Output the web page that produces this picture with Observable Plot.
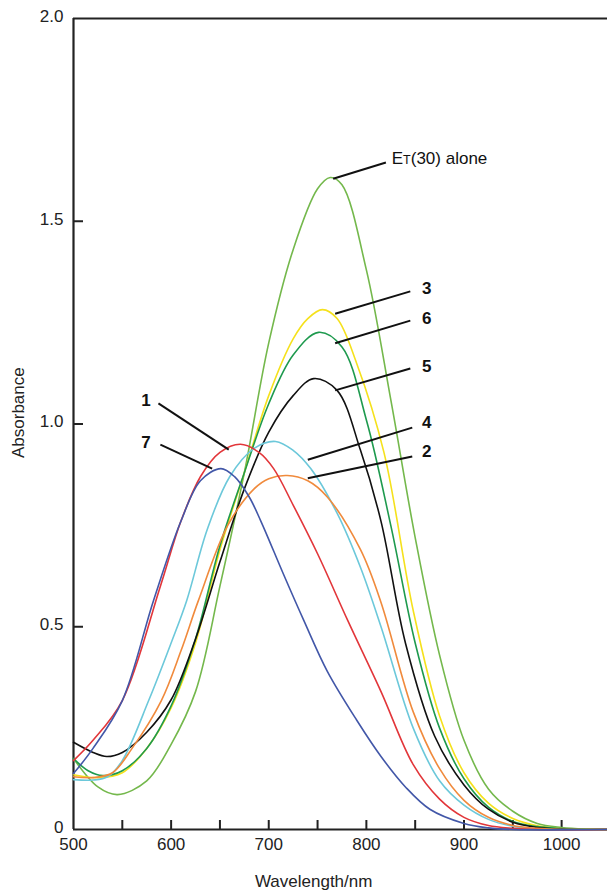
<!DOCTYPE html>
<html><head><meta charset="utf-8">
<script src="https://cdn.jsdelivr.net/npm/d3@7"></script>
<script src="https://cdn.jsdelivr.net/npm/@observablehq/plot@0.6"></script>
<style>
body{margin:0;background:#fff}
svg{display:block}
#chart svg text{font-size:17px}
#chart svg text.axis-title{font-size:17.5px}
#chart svg text.num-label{font-size:17px}
#chart svg text.et-label{font-size:16.5px}
</style>
</head><body><div id="chart"></div>
<script>
// ---- data ----
const et30Nm  = [500, 525, 545, 575, 600, 625, 650, 675, 700, 725, 750, 763, 775, 800, 825, 850, 875, 900, 925, 950, 975, 1000, 1025, 1047];
const et30Abs = [0.175, 0.105, 0.086, 0.12, 0.21, 0.34, 0.60, 0.88, 1.20, 1.43, 1.58, 1.608, 1.59, 1.38, 1.06, 0.72, 0.43, 0.22, 0.10, 0.045, 0.015, 0.005, 0.001, 0];

const s3Nm  = [500, 525, 550, 575, 600, 625, 650, 675, 700, 725, 740, 755, 770, 790, 818, 848, 875, 900, 925, 950, 975, 1000, 1047];
const s3Abs = [0.135, 0.128, 0.14, 0.20, 0.30, 0.46, 0.69, 0.88, 1.07, 1.21, 1.26, 1.282, 1.26, 1.15, 0.93, 0.54, 0.28, 0.14, 0.065, 0.027, 0.009, 0.002, 0];

const s6Nm  = [500, 515, 530, 550, 575, 600, 625, 650, 675, 700, 725, 751, 775, 800, 825, 850, 875, 900, 925, 950, 975, 1000, 1047];
const s6Abs = [0.175, 0.145, 0.133, 0.145, 0.20, 0.305, 0.47, 0.70, 0.88, 1.05, 1.17, 1.226, 1.19, 1.01, 0.75, 0.46, 0.25, 0.125, 0.055, 0.02, 0.007, 0.002, 0];

const s5Nm  = [500, 520, 534, 550, 575, 600, 625, 650, 675, 700, 725, 746, 770, 794, 815, 840, 870, 900, 925, 950, 975, 1000, 1047];
const s5Abs = [0.215, 0.19, 0.18, 0.19, 0.24, 0.32, 0.47, 0.66, 0.84, 0.98, 1.07, 1.112, 1.083, 0.935, 0.76, 0.46, 0.23, 0.11, 0.05, 0.018, 0.005, 0.001, 0];

const s4Nm  = [500, 520, 535, 550, 577, 600, 616, 637, 660, 685, 707, 725, 743, 770, 794, 815, 848, 875, 900, 925, 950, 975, 1000, 1047];
const s4Abs = [0.123, 0.122, 0.13, 0.17, 0.318, 0.46, 0.565, 0.74, 0.87, 0.94, 0.957, 0.935, 0.89, 0.78, 0.646, 0.50, 0.25, 0.12, 0.06, 0.025, 0.008, 0.002, 0, 0];

const s2Nm  = [500, 520, 540, 560, 590, 610, 628, 658, 685, 700, 719, 740, 760, 794, 815, 848, 875, 900, 925, 950, 975, 1000, 1047];
const s2Abs = [0.13, 0.128, 0.14, 0.20, 0.318, 0.44, 0.565, 0.75, 0.84, 0.865, 0.873, 0.86, 0.82, 0.69, 0.56, 0.29, 0.15, 0.072, 0.03, 0.01, 0.003, 0, 0];

const s1Nm  = [500, 520, 550, 589, 610, 630, 650, 671, 690, 705, 725, 750, 781, 815, 848, 875, 900, 925, 950, 975, 1047];
const s1Abs = [0.17, 0.22, 0.318, 0.60, 0.76, 0.87, 0.93, 0.95, 0.93, 0.89, 0.80, 0.68, 0.515, 0.34, 0.16, 0.075, 0.03, 0.01, 0.003, 0, 0];

const s7Nm  = [500, 520, 550, 582, 610, 630, 651, 665, 680, 692, 715, 736, 760, 790, 815, 840, 865, 900, 925, 950, 1047];
const s7Abs = [0.138, 0.20, 0.318, 0.565, 0.76, 0.86, 0.89, 0.87, 0.82, 0.76, 0.63, 0.515, 0.39, 0.27, 0.18, 0.105, 0.05, 0.015, 0.004, 0, 0];

const seriesNames  = ["ET(30) alone", "3", "6", "5", "4", "2", "1", "7"];
const seriesColors = ["#74b84c", "#f5e11c", "#1e9a4e", "#111111", "#6cc8da", "#f08a3c", "#e2363a", "#4257a8"];
const seriesNm  = [et30Nm, s3Nm, s6Nm, s5Nm, s4Nm, s2Nm, s1Nm, s7Nm];
const seriesAbs = [et30Abs, s3Abs, s6Abs, s5Abs, s4Abs, s2Abs, s1Abs, s7Abs];

const xTickValues = [550, 600, 650, 700, 750, 800, 850, 900, 950, 1000];
const xTickLabels = [500, 600, 700, 800, 900, 1000];
const yTickValues = [0.5, 1.0, 1.5];
const yTickLabels = [0, 0.5, 1.0, 1.5, 2.0];
const xTitle = "Wavelength/nm";
const yTitle = "Absorbance";

// annotation leader lines (data coordinates) and labels
const annLabel = ["ET(30) alone", "3", "6", "5", "4", "2", "1", "7"];
const annX1 = [766, 768, 768, 768, 740, 740, 659, 642];
const annY1 = [1.605, 1.272, 1.199, 1.083, 0.912, 0.866, 0.937, 0.890];
const annX2 = [820, 845, 845, 845, 847, 847, 587, 589];
const annY2 = [1.645, 1.327, 1.255, 1.137, 0.991, 0.920, 1.051, 0.949];
const annTx = [826, 857, 857, 857, 857, 857, 579, 579];
const annTy = [1.655, 1.334, 1.260, 1.142, 1.004, 0.932, 1.058, 0.954];
const annAnchor = ["start", "start", "start", "start", "start", "start", "end", "end"];

// ---- build tables ----
const rows = seriesNames.flatMap((name, i) =>
  seriesNm[i].map((nm, j) => ({name, nm, abs: seriesAbs[i][j]})));
const ann = annLabel.map((t, i) => ({t, x1: annX1[i], y1: annY1[i], x2: annX2[i], y2: annY2[i],
  tx: annTx[i], ty: annTy[i], anchor: annAnchor[i]}));

const font = "'Liberation Sans', Arial, Helvetica, sans-serif";

const chart = Plot.plot({
  width: 607,
  height: 890,
  marginLeft: 73,
  marginRight: 0,
  marginTop: 18,
  marginBottom: 61,
  style: {fontFamily: font, fontSize: "17px", color: "#222", background: "#fff"},
  x: {domain: [500, 1047], label: null},
  y: {domain: [0, 2], label: null},
  color: {domain: seriesNames, range: seriesColors},
  marks: [
    Plot.axisX(xTickValues, {tickSize: -9, tickFormat: () => "", stroke: "#222", strokeWidth: 2, label: null}),
    Plot.axisX(xTickLabels, {tickSize: 0, tickPadding: 8, tickFormat: d => String(d), label: null, fill: "#222"}),
    Plot.axisY(yTickValues, {tickSize: -10, tickFormat: () => "", stroke: "#222", strokeWidth: 2, label: null}),
    Plot.axisY(yTickLabels, {tickSize: 0, tickPadding: 10, dy: -2, tickFormat: d => d === 0 ? "0" : d.toFixed(1), label: null, fill: "#222"}),
    Plot.text([xTitle], {x: 746, frameAnchor: "bottom", dy: 52, lineAnchor: "middle", textAnchor: "middle",
      text: d => d, fill: "#222", className: "axis-title"}),
    Plot.text([yTitle], {y: 1.028, frameAnchor: "left", dx: -55, rotate: -90, lineAnchor: "middle", textAnchor: "middle",
      text: d => d, fill: "#222", className: "axis-title"}),
    Plot.ruleX([500], {stroke: "#222", strokeWidth: 2.2}),
    Plot.ruleY([0], {stroke: "#222", strokeWidth: 2.2}),
    Plot.ruleY([2], {stroke: "#222", strokeWidth: 2.2}),
    Plot.line(rows, {x: "nm", y: "abs", z: "name", stroke: "name", strokeWidth: 1.6, curve: "catmull-rom"}),
    Plot.link(ann, {x1: "x1", y1: "y1", x2: "x2", y2: "y2", stroke: "#111", strokeWidth: 2}),
    Plot.text(ann.filter(d => d.t === "ET(30) alone"), {x: "tx", y: "ty", text: "t", textAnchor: "start",
      fill: "#111", className: "et-label"}),
    Plot.text(ann.filter(d => d.t !== "ET(30) alone" && d.anchor === "start"), {x: "tx", y: "ty", text: "t",
      textAnchor: "start", fontWeight: "bold", fill: "#111", className: "num-label"}),
    Plot.text(ann.filter(d => d.anchor === "end"), {x: "tx", y: "ty", text: "t", textAnchor: "end",
      fontWeight: "bold", fill: "#111", className: "num-label"})
  ]
});
document.getElementById("chart").appendChild(chart);

// render the small "T" in "ET(30) alone"
d3.select(chart).selectAll("text").filter(function () { return this.textContent === "ET(30) alone"; })
  .each(function () {
    const t = d3.select(this);
    t.text(null);
    t.append("tspan").text("E");
    t.append("tspan").attr("font-size", 12.5).text("T");
    t.append("tspan").text("(30) alone");
  });
</script>
</body></html>
